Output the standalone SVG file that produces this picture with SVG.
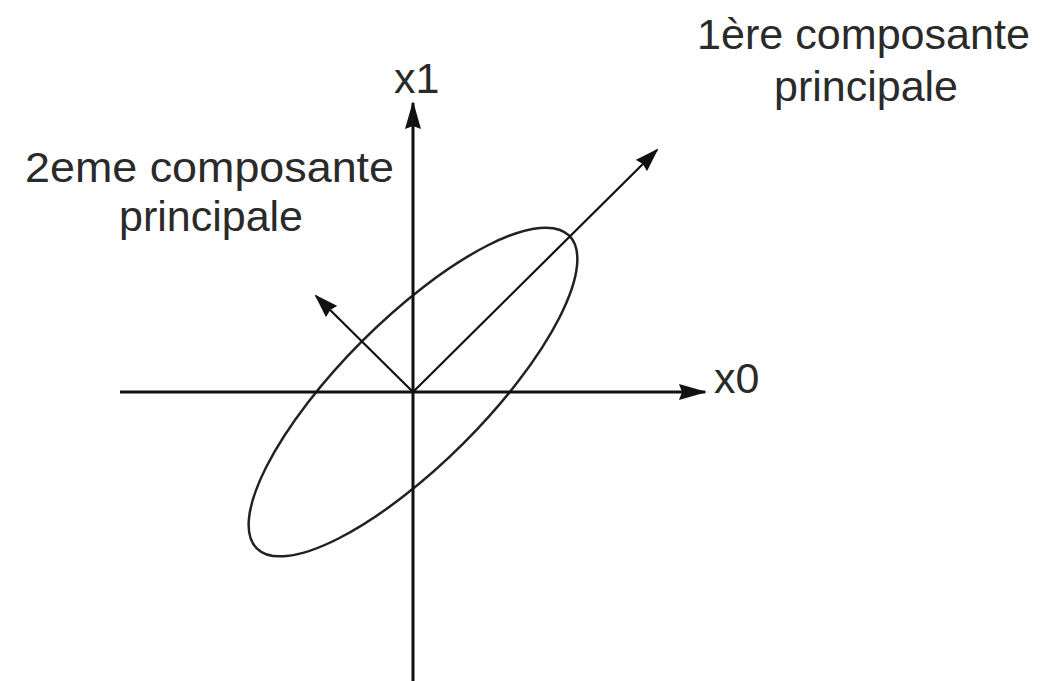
<svg xmlns="http://www.w3.org/2000/svg" width="1061" height="681" viewBox="0 0 1061 681">
<style>
.t{font-family:"Liberation Sans",Arial,sans-serif;font-size:43px;fill:#2a2a2a}
.ax{stroke:#111;stroke-width:3;fill:none}
.pc{stroke:#111;stroke-width:2.2;fill:none}
.el{stroke:#222;stroke-width:2.5;fill:none}
</style>
<defs>
<marker id="hAx" markerUnits="userSpaceOnUse" viewBox="0 0 28 16" refX="26" refY="8" markerWidth="28" markerHeight="16" orient="auto">
<path d="M0,0 L28,8 L0,16 L3,8 Z" fill="#111"/>
</marker>
<marker id="hPc" markerUnits="userSpaceOnUse" viewBox="0 0 24 16" refX="22" refY="8" markerWidth="24" markerHeight="16" orient="auto">
<path d="M0,0 L24,8 L0,16 L2,8 Z" fill="#111"/>
</marker>
</defs>
<rect width="1061" height="681" fill="#fff"/>
<g id="ellipse">
<ellipse class="el" cx="413" cy="392" rx="221" ry="72" transform="rotate(-45 413 392)"/>
</g>
<g id="connectors">
<line class="ax" x1="413" y1="681" x2="413" y2="103" marker-end="url(#hAx)"/>
<line class="ax" x1="120" y1="392" x2="705" y2="392" marker-end="url(#hAx)"/>
<line class="pc" x1="413" y1="392" x2="657" y2="150" marker-end="url(#hPc)"/>
<line class="pc" x1="413" y1="392" x2="316" y2="296" marker-end="url(#hPc)"/>
</g>
<g id="label-x1"><text class="t" x="394" y="93" font-size="42">x1</text></g>
<g id="label-x0"><text class="t" x="714" y="393" font-size="42">x0</text></g>
<g id="label-pc1">
<text class="t" x="697" y="49" textLength="333" lengthAdjust="spacingAndGlyphs">1ère composante</text>
<text class="t" x="866" y="101" text-anchor="middle">principale</text>
</g>
<g id="label-pc2">
<text class="t" x="25" y="182" textLength="369" lengthAdjust="spacingAndGlyphs">2eme composante</text>
<text class="t" x="211" y="231" text-anchor="middle">principale</text>
</g>
</svg>
